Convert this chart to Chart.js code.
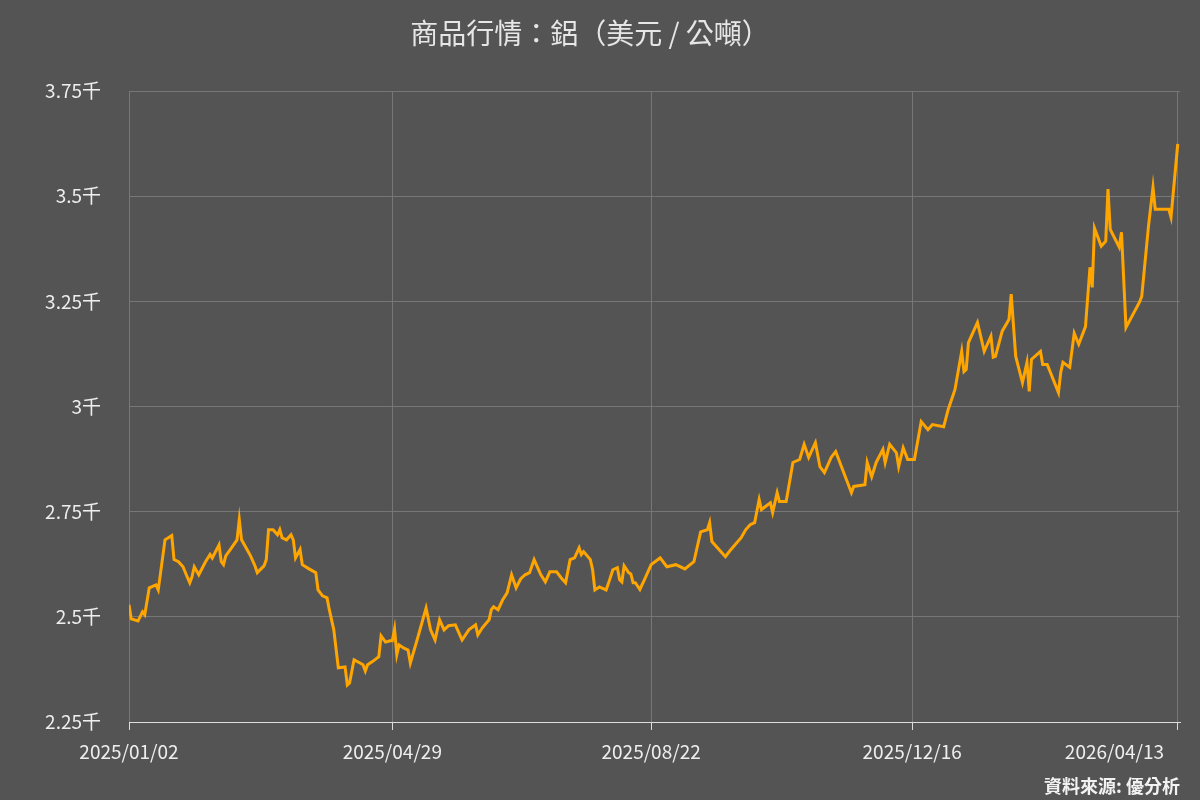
<!DOCTYPE html>
<html><head><meta charset="utf-8">
<script src="https://cdn.jsdelivr.net/npm/chart.js@4"></script>
<style>html,body{margin:0;padding:0;background:#545454;}#w{width:1200px;height:800px;}</style>
</head><body><div id="w"><canvas id="c"></canvas></div>
<script>
const startDate = [2025, 0, 2];
const tickDays = [0, 117, 232, 348, 466];
const yTicks = [2250, 2500, 2750, 3000, 3250, 3500, 3750];
const days = [0,1,4,6,7,9,12,13,16,19,20,22,24,26,27,28,29,31,34,36,37,40,41,42,43,45,48,49,50,52,54,56,57,60,61,62,64,66,67,68,70,72,73,74,76,77,80,83,84,86,88,89,91,93,96,97,98,100,101,104,105,106,108,111,112,114,116,117,118,119,120,122,124,125,128,132,134,136,138,140,142,145,148,151,154,155,157,160,161,162,164,166,168,170,172,174,176,178,180,183,185,187,190,192,194,196,198,200,201,202,205,206,207,209,212,213,215,217,218,219,220,222,223,224,225,227,229,
232,236,239,243,247,251,254,257,258,259,265,267,272,274,276,278,280,281,285,286,288,289,292,295,298,300,302,305,307,309,312,314,321,322,327,328,330,332,335,336,338,341,342,344,346,349,352,355,357,362,364,367,370,371,372,373,377,380,383,384,385,388,391,392,394,397,399,400,401,405,406,408,413,414,415,418,420,422,425,427,428,429,432,434,435,436,440,441,443,449,450,453,455,456,462,463,466];
const prices = [2529,2495,2490,2512,2505,2569,2576,2564,2683,2693,2636,2631,2619,2593,2581,2595,2619,2600,2631,2648,2640,2671,2631,2624,2645,2660,2683,2731,2683,2664,2645,2621,2605,2621,2636,2707,2707,2695,2707,2688,2683,2695,2683,2640,2660,2624,2614,2605,2564,2550,2545,2517,2469,2379,2381,2338,2343,2398,2395,2386,2371,2386,2393,2405,2455,2440,2443,2443,2471,2410,2433,2426,2421,2390,2445,2521,2469,2445,2493,2469,2479,2481,2445,2469,2481,2457,2474,2493,2517,2524,2517,2540,2557,2600,2569,2590,2600,2605,2636,2600,2583,2607,2607,2593,2581,2636,2640,2664,2648,2655,2636,2612,2564,2571,2564,2579,2612,2617,2588,2583,2621,2605,2602,2581,2581,2565,2588,
2624,2640,2619,2624,2614,2631,2702,2707,2724,2679,2643,2657,2688,2707,2719,2724,2779,2755,2771,2748,2795,2774,2774,2867,2874,2910,2879,2914,2857,2843,2879,2893,2795,2810,2814,2867,2833,2867,2898,2867,2910,2890,2857,2902,2874,2874,2964,2945,2957,2952,2993,3040,3131,3083,3088,3152,3200,3131,3167,3117,3119,3179,3207,3267,3119,3057,3105,3036,3112,3131,3100,3100,3033,3081,3105,3093,3174,3148,3190,3331,3283,3424,3381,3393,3517,3421,3379,3414,3188,3248,3262,3429,3521,3469,3469,3450,3624];

function dayLabel(d){
  const dt = new Date(Date.UTC(startDate[0], startDate[1], startDate[2] + d));
  const p = n => String(n).padStart(2,'0');
  return dt.getUTCFullYear() + '/' + p(dt.getUTCMonth()+1) + '/' + p(dt.getUTCDate());
}
const FONT = '"Noto Sans CJK TC","Noto Sans",sans-serif';
const deco = {
  id:'deco',
  afterDraw(ch){
    const c = ch.ctx; c.save();
    c.fillStyle = '#e6e6e6'; c.font = '28px ' + FONT; c.textAlign='center'; c.textBaseline='middle';
    c.fillText('商品行情：鋁（美元 / 公噸）', 590, 33);
    c.font = 'bold 18px ' + FONT; c.textAlign='right'; c.fillStyle='#f2f2f2';
    c.fillText('資料來源: 優分析', 1180, 786);
    c.restore();
  }
};
new Chart(document.getElementById('c'), {
  type:'line',
  data:{datasets:[{data: days.map((d,i)=>({x:d, y:prices[i]})), borderColor:'#FFA500', borderWidth:3, pointRadius:0, tension:0, fill:false}]},
  options:{
    responsive:true, maintainAspectRatio:false, animation:false,
    layout:{padding:{top:91, right:20, left:0, bottom:0}},
    plugins:{legend:{display:false}, tooltip:{enabled:false}},
    scales:{
      x:{type:'linear', min:0, max:467,
        afterBuildTicks(s){ s.ticks = tickDays.map(v=>({value:v})); },
        afterFit(s){ s.height = 78; s.paddingRight = 0; s.paddingLeft = 0; },
        ticks:{color:'#eeeeee', font:{size:19, family:FONT}, maxRotation:0, autoSkip:false, padding:10,
          callback:(v,i,arr)=> i===arr.length-1 ? dayLabel(v) + '\u2007'.repeat(12) : dayLabel(v)},
        grid:{color:'#777777', tickLength:8, tickColor:'#dddddd'},
        border:{color:'#dddddd', width:1}},
      y:{min:2250, max:3750,
        afterBuildTicks(s){ s.ticks = yTicks.map(v=>({value:v})); },
        afterFit(s){ s.width = 129; },
        ticks:{color:'#eeeeee', font:{size:19, family:FONT}, padding:28, callback:v=>(+(v/1000).toFixed(2))+'千'},
        grid:{color:'#777777', drawTicks:false},
        border:{display:false}}
    }
  },
  plugins:[deco]
});
</script></body></html>
